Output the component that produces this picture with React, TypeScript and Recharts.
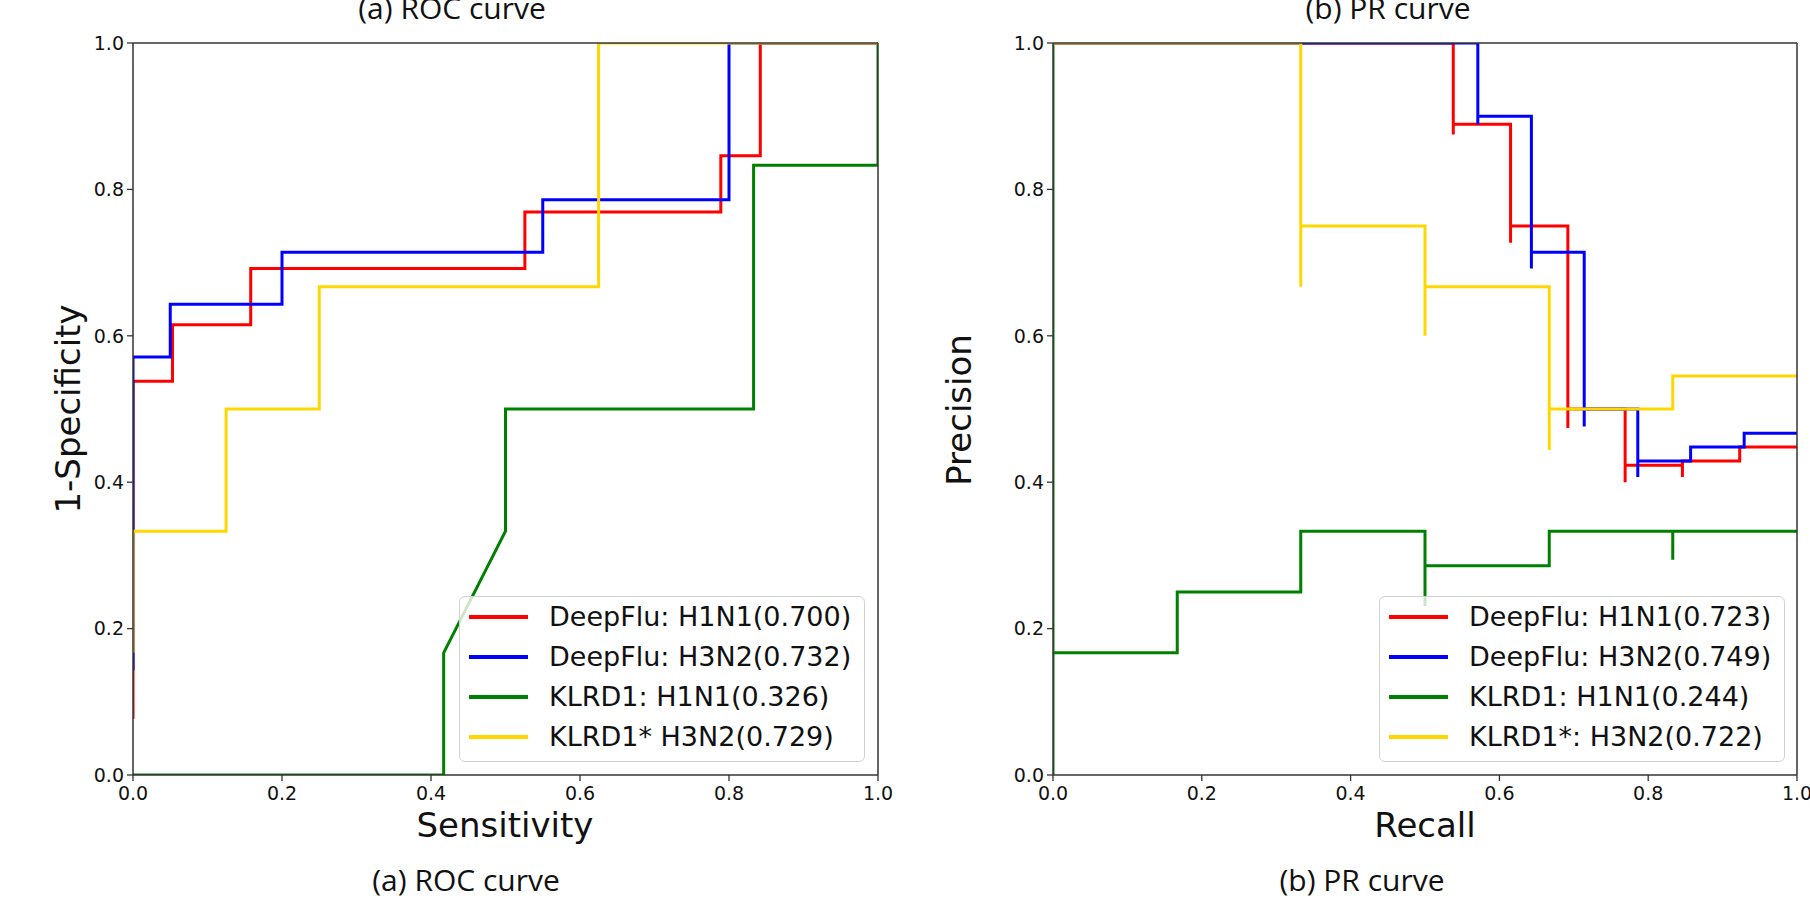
import React from 'react';
import { LineChart, Line, XAxis, YAxis, ReferenceLine, Legend } from 'recharts';

type Pt = { x: number; y: number };

// ---------- data ----------
const tickValues = [0, 0.2, 0.4, 0.6, 0.8, 1.0];
const seriesColors = ['#ff0000', '#0000ff', '#008000', '#ffd700'];

const rocLabels = ['DeepFlu: H1N1(0.700)', 'DeepFlu: H3N2(0.732)', 'KLRD1: H1N1(0.326)', 'KLRD1* H3N2(0.729)'];
const prLabels = ['DeepFlu: H1N1(0.723)', 'DeepFlu: H3N2(0.749)', 'KLRD1: H1N1(0.244)', 'KLRD1*: H3N2(0.722)'];

// ROC curves (false-positive rate, true-positive rate)
const rocDeepFluH1N1: Pt[] = [
  { x: 0, y: 0.077 }, { x: 0, y: 0.538 }, { x: 0.053, y: 0.538 }, { x: 0.053, y: 0.615 },
  { x: 0.158, y: 0.615 }, { x: 0.158, y: 0.692 }, { x: 0.526, y: 0.692 }, { x: 0.526, y: 0.769 },
  { x: 0.789, y: 0.769 }, { x: 0.789, y: 0.846 }, { x: 0.842, y: 0.846 }, { x: 0.842, y: 1 }, { x: 1, y: 1 },
];
const rocDeepFluH3N2: Pt[] = [
  { x: 0, y: 0.143 }, { x: 0, y: 0.571 }, { x: 0.05, y: 0.571 }, { x: 0.05, y: 0.643 },
  { x: 0.2, y: 0.643 }, { x: 0.2, y: 0.714 }, { x: 0.55, y: 0.714 }, { x: 0.55, y: 0.786 },
  { x: 0.8, y: 0.786 }, { x: 0.8, y: 1 }, { x: 1, y: 1 },
];
const rocKlrd1H1N1: Pt[] = [
  { x: 0, y: 0 }, { x: 0.417, y: 0 }, { x: 0.417, y: 0.167 }, { x: 0.5, y: 0.333 },
  { x: 0.5, y: 0.5 }, { x: 0.833, y: 0.5 }, { x: 0.833, y: 0.833 }, { x: 1, y: 0.833 }, { x: 1, y: 1 },
];
const rocKlrd1H3N2: Pt[] = [
  { x: 0, y: 0.167 }, { x: 0, y: 0.333 }, { x: 0.125, y: 0.333 }, { x: 0.125, y: 0.5 },
  { x: 0.25, y: 0.5 }, { x: 0.25, y: 0.667 }, { x: 0.625, y: 0.667 }, { x: 0.625, y: 1 }, { x: 1, y: 1 },
];

// PR curves (recall, precision), drawn as steps
const prDeepFluH1N1: Pt[] = [
  { x: 0, y: 1 }, { x: 0.538, y: 1 }, { x: 0.538, y: 0.875 }, { x: 0.615, y: 0.889 },
  { x: 0.615, y: 0.727 }, { x: 0.692, y: 0.75 }, { x: 0.692, y: 0.474 }, { x: 0.769, y: 0.5 },
  { x: 0.769, y: 0.4 }, { x: 0.846, y: 0.423 }, { x: 0.846, y: 0.407 }, { x: 0.923, y: 0.429 }, { x: 1, y: 0.448 },
];
const prDeepFluH3N2: Pt[] = [
  { x: 0, y: 1 }, { x: 0.571, y: 1 }, { x: 0.571, y: 0.889 }, { x: 0.643, y: 0.9 },
  { x: 0.643, y: 0.692 }, { x: 0.714, y: 0.714 }, { x: 0.714, y: 0.476 }, { x: 0.786, y: 0.5 },
  { x: 0.786, y: 0.407 }, { x: 0.857, y: 0.429 }, { x: 0.929, y: 0.448 }, { x: 1, y: 0.467 },
];
const prKlrd1H1N1: Pt[] = [
  { x: 0, y: 1 }, { x: 0, y: 0 }, { x: 0.167, y: 0.167 }, { x: 0.333, y: 0.25 },
  { x: 0.5, y: 0.333 }, { x: 0.5, y: 0.231 }, { x: 0.667, y: 0.286 }, { x: 0.833, y: 0.333 },
  { x: 0.833, y: 0.294 }, { x: 1, y: 0.333 },
];
const prKlrd1H3N2: Pt[] = [
  { x: 0, y: 1 }, { x: 0.333, y: 1 }, { x: 0.333, y: 0.667 }, { x: 0.5, y: 0.75 },
  { x: 0.5, y: 0.6 }, { x: 0.667, y: 0.667 }, { x: 0.667, y: 0.444 }, { x: 0.833, y: 0.5 }, { x: 1, y: 0.545 },
];

const rocSeries = [rocDeepFluH1N1, rocDeepFluH3N2, rocKlrd1H1N1, rocKlrd1H3N2];
const prSeries = [prDeepFluH1N1, prDeepFluH3N2, prKlrd1H1N1, prKlrd1H3N2];

// ---------- styling ----------
const AXIS = '#333333';
const TICK_FONT = { fill: '#111', fontSize: 19, fontFamily: 'DejaVu Sans' };
const fmt = (v: number) => v.toFixed(1);

function makeLegend(labels: string[]) {
  return (props: any) => {
    const items = [...(props.payload || [])].sort(
      (a: any, b: any) => labels.indexOf(a.value) - labels.indexOf(b.value)
    );
    return (
      <div
        style={{
          width: 406,
          height: 166,
          boxSizing: 'border-box',
          border: '1px solid #d2d2d2',
          borderRadius: 6,
          background: 'rgba(255,255,255,0.8)',
          position: 'relative',
          fontFamily: 'DejaVu Sans',
          fontSize: 27,
          color: '#111',
        }}
      >
        {items.map((p: any, i: number) => (
          <div
            key={p.value}
            style={{
              position: 'absolute',
              left: 9,
              top: 0 + 40 * i,
              height: 40,
              display: 'flex',
              alignItems: 'center',
              whiteSpace: 'nowrap',
            }}
          >
            <span style={{ display: 'inline-block', width: 59, height: 3.5, background: p.color }} />
            <span style={{ marginLeft: 21, lineHeight: '40px' }}>{p.value}</span>
          </div>
        ))}
      </div>
    );
  };
}

type PanelProps = {
  series: Pt[][];
  labels: string[];
  curve: 'linear' | 'stepBefore';
  yAxisWidth: number;
  marginRight: number;
  legendLeft: number;
};

function Panel({ series, labels, curve, yAxisWidth, marginRight, legendLeft }: PanelProps) {
  return (
    <LineChart width={905} height={903} margin={{ top: 43, right: marginRight, bottom: 68, left: 0 }}>
      <XAxis
        type="number"
        dataKey="x"
        domain={[0, 1]}
        ticks={tickValues}
        tickFormatter={fmt}
        height={60}
        tick={TICK_FONT}
        tickSize={6}
        tickMargin={6}
        axisLine={{ stroke: AXIS, strokeWidth: 1.5 }}
        tickLine={{ stroke: AXIS, strokeWidth: 1.3 }}
        allowDataOverflow
      />
      <YAxis
        type="number"
        domain={[0, 1]}
        ticks={tickValues}
        tickFormatter={fmt}
        width={yAxisWidth}
        tick={TICK_FONT}
        tickSize={6}
        tickMargin={3}
        axisLine={{ stroke: AXIS, strokeWidth: 1.5 }}
        tickLine={{ stroke: AXIS, strokeWidth: 1.3 }}
        allowDataOverflow
      />
      {series.map((d, i) => (
        <Line
          key={labels[i]}
          data={d}
          dataKey="y"
          name={labels[i]}
          type={curve}
          stroke={seriesColors[i]}
          strokeWidth={3}
          dot={false}
          activeDot={false}
          isAnimationActive={false}
        />
      ))}
      <ReferenceLine y={1} stroke={AXIS} strokeWidth={1.5} />
      <ReferenceLine x={1} stroke={AXIS} strokeWidth={1.5} />
      <Legend
        layout="vertical"
        align="center"
        verticalAlign="middle"
        content={makeLegend(labels)}
        wrapperStyle={{ left: legendLeft, top: 596, width: 406, height: 166 }}
      />
    </LineChart>
  );
}

export default function App() {
  const caption = { fontFamily: 'Open Sans', fontSize: 30, fill: '#111' };
  const axisLabel = { fontFamily: 'DejaVu Sans', fontSize: 34, fill: '#111' };
  return (
    <div style={{ position: 'absolute', left: 0, top: 0, width: 1810, height: 903, background: '#fff', overflow: 'hidden' }}>
      <div style={{ position: 'absolute', left: 0, top: 0 }}>
        <Panel series={rocSeries} labels={rocLabels} curve="linear" yAxisWidth={133} marginRight={27} legendLeft={459} />
      </div>
      <div style={{ position: 'absolute', left: 905, top: 0 }}>
        <Panel series={prSeries} labels={prLabels} curve="stepBefore" yAxisWidth={148} marginRight={13} legendLeft={474} />
      </div>
      <svg width={1810} height={903} style={{ position: 'absolute', left: 0, top: 0, pointerEvents: 'none' }}>
        <text x={452} y={19} textAnchor="middle" {...caption}>(a) ROC curve</text>
        <text x={1388} y={19} textAnchor="middle" {...caption}>(b) PR curve</text>
        <text x={466} y={891} textAnchor="middle" {...caption}>(a) ROC curve</text>
        <text x={1362} y={891} textAnchor="middle" {...caption}>(b) PR curve</text>
        <text x={505} y={837} textAnchor="middle" {...axisLabel}>Sensitivity</text>
        <text x={1425} y={837} textAnchor="middle" {...axisLabel}>Recall</text>
        <text transform="translate(80,409) rotate(-90)" textAnchor="middle" {...axisLabel}>1-Specificity</text>
        <text transform="translate(971,410) rotate(-90)" textAnchor="middle" {...axisLabel}>Precision</text>
      </svg>
    </div>
  );
}
